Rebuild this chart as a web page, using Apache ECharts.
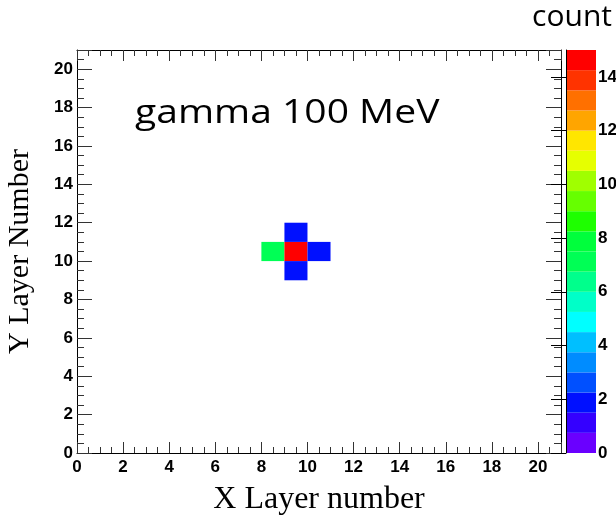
<!DOCTYPE html>
<html>
<head>
<meta charset="utf-8">
<script src="https://cdn.jsdelivr.net/npm/echarts@6/dist/echarts.min.js"></script>
<style>
html,body{margin:0;padding:0;background:#fff;}
#chart{width:616px;height:519px;}
</style>
</head>
<body>
<div id="chart"></div>
<script>
// Filled bins (lower-left corner of each 1x1 bin) and their counts
const binX = [8, 9, 10, 9, 9];
const binY = [10, 10, 10, 11, 9];
const binCounts = [7, 15, 2, 2, 2];

// Colour palette bands (ROOT style, 20 contours from 0 to 15)
const bandLow  = [0, 0.75, 1.5, 2.25, 3, 3.75, 4.5, 5.25, 6, 6.75, 7.5, 8.25, 9, 9.75, 10.5, 11.25, 12, 12.75, 13.5, 14.25];
const bandHigh = [0.75, 1.5, 2.25, 3, 3.75, 4.5, 5.25, 6, 6.75, 7.5, 8.25, 9, 9.75, 10.5, 11.25, 12, 12.75, 13.5, 14.25, 15];
const bandColors = ['#6a00ff', '#3400ff', '#0010ff', '#0050ff', '#008cff', '#00bfff', '#00ffff', '#00ffc8', '#00ff8c', '#00ff55',
                    '#00ff3c', '#1eff00', '#66ff00', '#a0ff00', '#e6ff00', '#ffe600', '#ffa500', '#ff7000', '#ff3300', '#ff0000'];

const cellData = binX.map((x, i) => [x, binY[i], binCounts[i]]);
const barData = bandLow.map((lo, i) => [0, lo, bandHigh[i], i]);

const chart = echarts.init(document.getElementById('chart'), null, {renderer: 'canvas'});

const tickFont = {fontFamily: 'Liberation Sans', fontWeight: 'bold', fontSize: 17, color: '#000'};
const lineStyle = {color: '#000', width: 1};

function frameAxis(pos, len, minorLen, labels, extra) {
  return Object.assign({
    type: 'value', min: 0, max: 21, interval: 2, position: pos, gridIndex: 0,
    axisLine: {show: true, onZero: false, lineStyle: lineStyle},
    axisTick: {show: true, inside: true, length: len, lineStyle: {color: '#333'}},
    minorTick: {show: true, splitNumber: 4, length: minorLen, lineStyle: {color: '#333'}},
    splitLine: {show: false},
    axisLabel: labels ? Object.assign({show: true, showMaxLabel: false}, tickFont) : {show: false}
  }, extra || {});
}

const option = {
  animation: false,
  backgroundColor: '#fff',
  grid: [
    {left: 77, right: 55, top: 50, bottom: 66, show: false, containLabel: false, outerBoundsMode: 'none'},
    {left: 566, width: 30, top: 50, bottom: 66, show: false, containLabel: false, outerBoundsMode: 'none'}
  ],
  xAxis: [
    frameAxis('bottom', 11, 6, true, {
      axisLabel: Object.assign({show: true, margin: 6, showMaxLabel: false}, tickFont),
      name: 'X Layer number', nameLocation: 'middle', nameGap: 31,
      nameTextStyle: {fontFamily: 'Liberation Serif', fontSize: 32, color: '#000'}
    }),
    frameAxis('top', 11, 6, false),
    {type: 'value', gridIndex: 1, min: 0, max: 1, show: false}
  ],
  yAxis: [
    frameAxis('left', 15, 7, true, {
      axisLabel: Object.assign({show: true, margin: 4, showMaxLabel: false}, tickFont),
      name: 'Y Layer Number', nameLocation: 'middle', nameGap: 42, nameRotate: 90,
      nameTextStyle: {fontFamily: 'Liberation Serif', fontSize: 30, color: '#000'}
    }),
    frameAxis('right', 15, 7, false),
    {
      type: 'value', gridIndex: 1, min: 0, max: 15, interval: 2, position: 'right', z: 10,
      axisLine: {show: true, lineStyle: lineStyle},
      axisTick: {show: true, inside: true, length: 15, lineStyle: {color: '#000'}},
      splitLine: {show: false},
      axisLabel: Object.assign({show: true, margin: 2, showMaxLabel: false}, tickFont)
    }
  ],
  visualMap: {
    type: 'piecewise', show: false, seriesIndex: 0, dimension: 2,
    pieces: bandLow.map((lo, i) => ({gte: lo, lt: bandHigh[i], color: bandColors[i]})).concat([{gte: 15, color: bandColors[bandColors.length - 1]}])
  },
  series: [
    {
      type: 'custom', xAxisIndex: 0, yAxisIndex: 0, data: cellData,
      encode: {x: 0, y: 1},
      renderItem: function (params, api) {
        const x = api.value(0), y = api.value(1);
        const p0 = api.coord([x, y + 1]);
        const p1 = api.coord([x + 1, y]);
        return {type: 'rect', shape: {x: p0[0], y: p0[1], width: p1[0] - p0[0], height: p1[1] - p0[1]},
                style: {fill: api.visual('color')}};
      }
    },
    {
      type: 'custom', xAxisIndex: 2, yAxisIndex: 2, data: barData,
      encode: {x: 0, y: [1, 2]},
      renderItem: function (params, api) {
        const lo = api.value(1), hi = api.value(2), idx = api.value(3);
        const p0 = api.coord([0, hi]);
        const p1 = api.coord([1, lo]);
        return {type: 'rect', shape: {x: p0[0], y: p0[1], width: p1[0] - p0[0], height: p1[1] - p0[1]},
                style: {fill: bandColors[idx]}};
      }
    }
  ],
  graphic: [
    {type: 'text', x: 135, y: 98, scaleX: 1.22,
     style: {text: 'gamma 100 MeV', font: '32px "Open Sans"', fill: '#000'}},
    {type: 'text', right: 4, top: 2,
     style: {text: 'count', font: '30px "Open Sans"', fill: '#000'}}
  ]
};
chart.setOption(option);
</script>
</body>
</html>
